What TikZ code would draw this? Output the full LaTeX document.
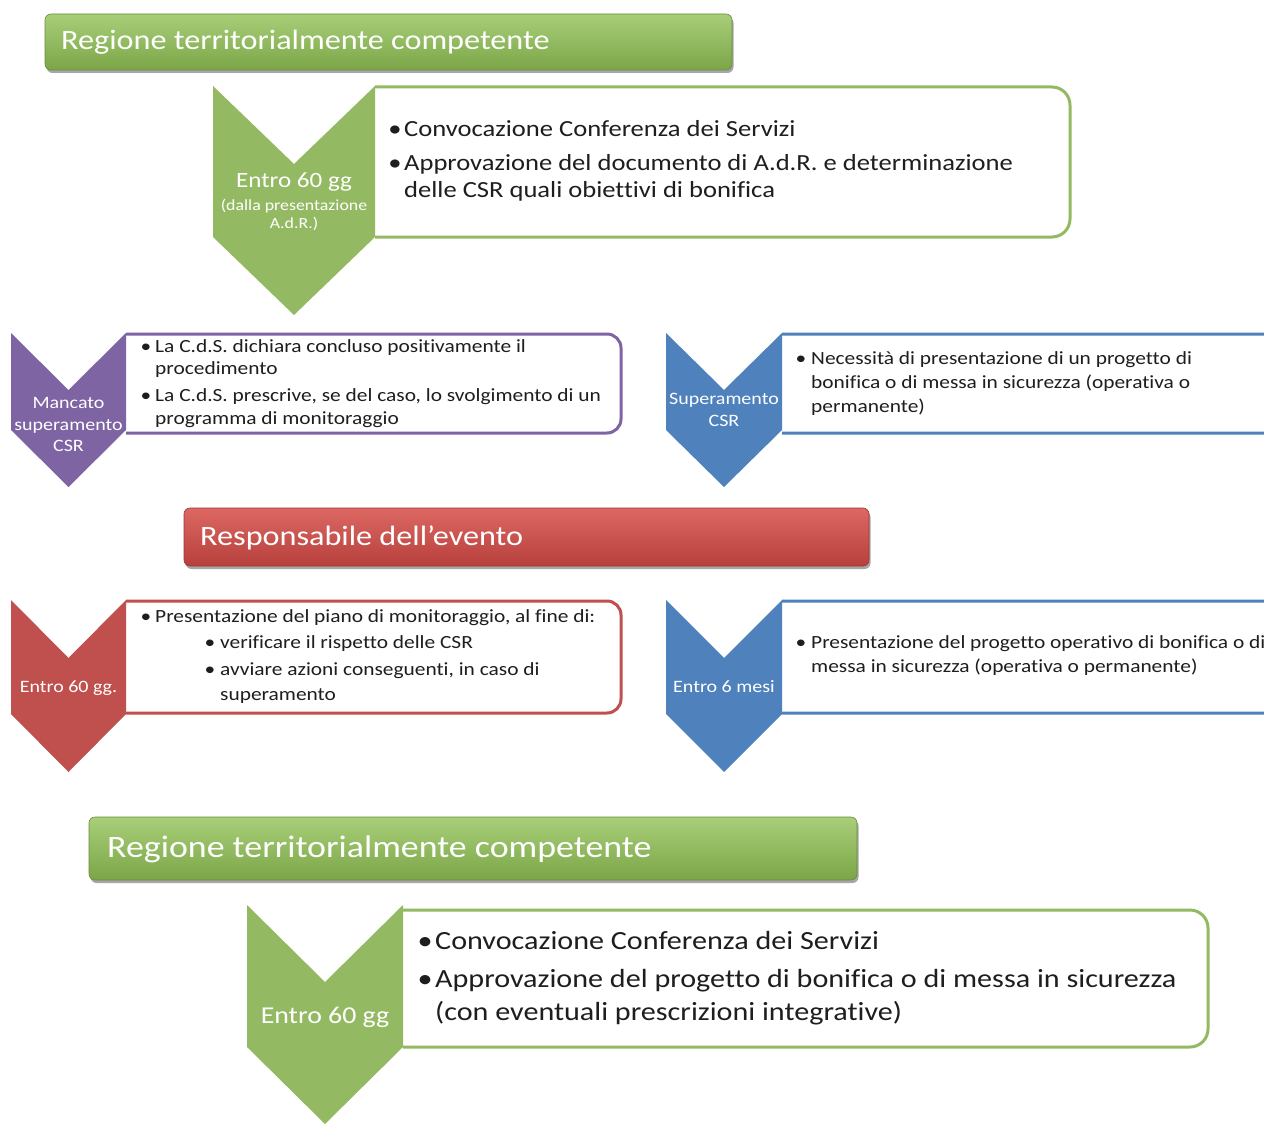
\documentclass[tikz,border=0pt]{standalone}
\usepackage{fontspec}
\setmainfont{Carlito}[FakeStretch=1.15, Ligatures=NoCommon]
\usetikzlibrary{shadows}
\definecolor{cgreen}{HTML}{93BA62}
\definecolor{cpurple}{HTML}{7F64A3}
\definecolor{cblue}{HTML}{4F81BD}
\definecolor{cred}{HTML}{C0504D}
\definecolor{gtop}{HTML}{A8CF78}
\definecolor{gbot}{HTML}{7CA548}
\definecolor{rtop}{HTML}{DC6763}
\definecolor{rbot}{HTML}{B7403C}
\definecolor{txt}{HTML}{1E1E1E}
\newcommand\mychev[6]{%
  \fill[#6] (#1,#3) -- ({(#1+#2)/2},{#3+#5}) -- (#2,#3) -- (#2,#4) -- ({(#1+#2)/2},{#4+#5}) -- (#1,#4) -- cycle;}
\begin{document}
\begin{tikzpicture}[x=1pt,y=-1pt,
  banner/.style={rounded corners=6pt, line width=0.6pt,
     drop shadow={shadow xshift=1.5pt, shadow yshift=-3pt, opacity=0.35, fill=black}},
  bt/.style={anchor=base west, inner sep=0pt, text=white},
  ln/.style={anchor=base west, inner sep=0pt, text=txt},
  bul/.style={anchor=base, inner sep=0pt, text=txt},
  ct/.style={anchor=base, inner sep=0pt, text=white},
  boxline/.style={line width=3pt, rounded corners=#1},
  fban/.style={font=\fontsize{28}{33}\selectfont},
  fbanb/.style={font=\fontsize{31.2}{37}\selectfont},
  fbig/.style={font=\fontsize{23.1}{27}\selectfont},
  fbigb/.style={font=\fontsize{26.2}{31}\selectfont},
  fmid/.style={font=\fontsize{18.6}{22}\selectfont},
  fchev/.style={font=\fontsize{17.4}{21}\selectfont},
  fchevb/.style={font=\fontsize{21.8}{26}\selectfont},
  fchevc/.style={font=\fontsize{24.2}{29}\selectfont},
  fsmall/.style={font=\fontsize{15.5}{18}\selectfont},
]
\useasboundingbox (0,0) rectangle (1264,1124);
\clip (0,0) rectangle (1264,1124);
\fill[white] (0,0) rectangle (1264,1124);

% ---------- top banner ----------
\draw[banner, top color=gtop, bottom color=gbot, draw=gbot!85!black] (45,14) rectangle (732,70);
\node[bt,fban] (ban1) at (61,50) {Regione territorialmente competente};

% ---------- step 1 ----------
\draw[boxline=18pt, draw=cgreen, fill=white] (375,87) -- (1070,87) -- (1070,237) -- (375,237);
\mychev{213}{375}{86}{237}{78}{cgreen}
\node[ct,fchevb] (c1a) at (294,187) {Entro 60 gg};
\node[ct,fsmall] (c1b) at (294,210) {(dalla presentazione};
\node[ct,fsmall] (c1c) at (294,228) {A.d.R.)};
\node[bul,fbig] (b1a) at (395,136) {•};
\node[ln,fbig] (l1a) at (404,136) {Convocazione Conferenza dei Servizi};
\node[bul,fbig] (b1b) at (395,170) {•};
\node[ln,fbig] (l1b) at (404,170) {Approvazione del documento di A.d.R. e determinazione};
\node[ln,fbig] (l1c) at (404,197) {delle CSR quali obiettivi di bonifica};

% ---------- purple ----------
\draw[boxline=14pt, draw=cpurple, fill=white] (126,334) -- (621,334) -- (621,433) -- (126,433);
\mychev{11}{126}{333}{430}{57}{cpurple}
\node[ct,fchev] (c2a) at (68.5,408) {Mancato};
\node[ct,fchev] (c2b) at (68.5,430) {superamento};
\node[ct,fchev] (c2c) at (68.5,451) {CSR};
\node[bul,fmid] (b2a) at (146,352) {•};
\node[ln,fmid] (l2a) at (155,352) {La C.d.S. dichiara concluso positivamente il};
\node[ln,fmid] (l2b) at (155,374) {procedimento};
\node[bul,fmid] (b2b) at (146,401) {•};
\node[ln,fmid] (l2c) at (155,401) {La C.d.S. prescrive, se del caso, lo svolgimento di un};
\node[ln,fmid] (l2d) at (155,424) {programma di monitoraggio};

% ---------- blue 1 ----------
\draw[boxline=14pt, draw=cblue, fill=white] (782,334) -- (1285,334) -- (1285,433) -- (782,433);
\mychev{666}{782}{333}{430}{57}{cblue}
\node[ct,fchev] (c3a) at (724,404) {Superamento};
\node[ct,fchev] (c3b) at (724,426) {CSR};
\node[bul,fmid] (b3a) at (801,364) {•};
\node[ln,fmid] (l3a) at (811,364) {Necessità di presentazione di un progetto di};
\node[ln,fmid] (l3b) at (811,388) {bonifica o di messa in sicurezza (operativa o};
\node[ln,fmid] (l3c) at (811,412) {permanente)};

% ---------- red banner ----------
\draw[banner, top color=rtop, bottom color=rbot, draw=rbot!85!black] (184,508) rectangle (869,566);
\node[bt,fban] (ban2) at (200,545) {Responsabile dell’evento};

% ---------- red ----------
\draw[boxline=14pt, draw=cred, fill=white] (126,601) -- (621,601) -- (621,713) -- (126,713);
\mychev{11}{126}{600}{714}{58}{cred}
\node[ct,fchev] (c4a) at (68.5,692) {Entro 60 gg.};
\node[bul,fmid] (b4a) at (146,622) {•};
\node[ln,fmid] (l4a) at (155,622) {Presentazione del piano di monitoraggio, al fine di:};
\node[bul,fmid] (b4b) at (210,648) {•};
\node[ln,fmid] (l4b) at (220,648) {verificare il rispetto delle CSR};
\node[bul,fmid] (b4c) at (210,675) {•};
\node[ln,fmid] (l4c) at (220,675) {avviare azioni conseguenti, in caso di};
\node[ln,fmid] (l4d) at (220,700) {superamento};

% ---------- blue 2 ----------
\draw[boxline=14pt, draw=cblue, fill=white] (782,601) -- (1285,601) -- (1285,713) -- (782,713);
\mychev{666}{782}{600}{714}{58}{cblue}
\node[ct,fchev] (c5a) at (724,692) {Entro 6 mesi};
\node[bul,fmid] (b5a) at (801,648) {•};
\node[ln,fmid] (l5a) at (811,648) {Presentazione del progetto operativo di bonifica o di};
\node[ln,fmid] (l5b) at (811,672) {messa in sicurezza (operativa o permanente)};

% ---------- bottom banner ----------
\draw[banner, top color=gtop, bottom color=gbot, draw=gbot!85!black] (89,817) rectangle (857,880);
\node[bt,fbanb] (ban3) at (107,857) {Regione territorialmente competente};

% ---------- final step ----------
\draw[boxline=18pt, draw=cgreen, fill=white] (403,910) -- (1208,910) -- (1208,1047) -- (403,1047);
\mychev{247}{403}{905}{1047}{77}{cgreen}
\node[ct,fchevc] (c6a) at (325,1023) {Entro 60 gg};
\node[bul,fbigb] (b6a) at (425,949) {•};
\node[ln,fbigb] (l6a) at (435,949) {Convocazione Conferenza dei Servizi};
\node[bul,fbigb] (b6b) at (425,987) {•};
\node[ln,fbigb] (l6b) at (435,987) {Approvazione del progetto di bonifica o di messa in sicurezza};
\node[ln,fbigb] (l6c) at (435,1020) {(con eventuali prescrizioni integrative)};
\end{tikzpicture}
\end{document}
